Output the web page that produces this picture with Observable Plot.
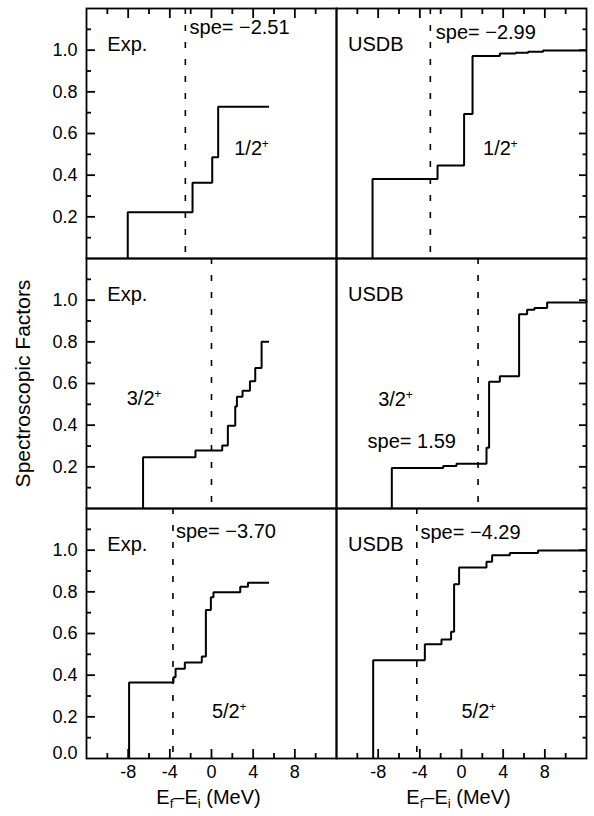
<!DOCTYPE html>
<html>
<head>
<meta charset="utf-8">
<script src="https://cdn.jsdelivr.net/npm/d3@7"></script>
<script src="https://cdn.jsdelivr.net/npm/@observablehq/plot@0.6"></script>
<style>
  html, body { margin: 0; padding: 0; background: #fff; }
  #chart { width: 594px; height: 816px; }
</style>
</head>
<body>
<div id="chart"></div>
<script>
// ---- categories ----
const models = ["Exp.", "USDB"];
const states = ["1/2+", "3/2+", "5/2+"];
const stateNames = ["1/2", "3/2", "5/2"];

// ---- cumulative spectroscopic factors: step energies (MeV) and running sums ----
const exp12E  = [-8.04, -1.82, 0.07, 0.64, 5.52];
const exp12S  = [0.222, 0.364, 0.486, 0.729, 0.729];
const usdb12E = [-8.54, -2.30, 0.25, 1.06, 3.68, 5.2, 6.4, 7.83, 12];
const usdb12S = [0.382, 0.446, 0.694, 0.972, 0.984, 0.988, 0.993, 0.998, 0.998];

const exp32E  = [-6.57, -1.54, 1.03, 1.57, 2.28, 2.44, 2.98, 3.69, 4.20, 4.81, 5.52];
const exp32S  = [0.246, 0.278, 0.303, 0.397, 0.490, 0.536, 0.565, 0.611, 0.674, 0.800, 0.800];
const usdb32E = [-6.69, -1.76, -0.48, 2.40, 2.65, 3.68, 5.53, 6.30, 7.0, 8.22, 12];
const usdb32S = [0.195, 0.204, 0.215, 0.292, 0.608, 0.635, 0.933, 0.954, 0.962, 0.989, 0.997];

const exp52E  = [-7.91, -3.65, -3.45, -2.56, -0.93, -0.54, -0.06, 0.19, 2.76, 3.50, 5.52];
const exp52S  = [0.365, 0.390, 0.431, 0.461, 0.490, 0.713, 0.774, 0.798, 0.825, 0.844, 0.844];
const usdb52E = [-8.48, -3.52, -1.92, -1.00, -0.71, -0.23, 2.40, 2.94, 4.64, 7.35, 12];
const usdb52S = [0.472, 0.549, 0.571, 0.609, 0.836, 0.917, 0.944, 0.976, 0.986, 0.998, 0.998];

// ---- single-particle energies (dashed lines) ----
const speExp  = [-2.51, 0.00, -3.70];
const speUsdb = [-2.99, 1.59, -4.29];

// ---- ticks and titles ----
const xDomain = [-12, 12];
const yDomain = [0, 1.2];
const xMajorTicks = [-8, -4, 0, 4, 8];
const xMinorTicks = [-10, -6, -2, 2, 6, 10];
const yMajorTicks = [0.2, 0.4, 0.6, 0.8, 1.0];
const yMinorTicks = [0.1, 0.3, 0.5, 0.7, 0.9, 1.1];
const xTitle = "Ef–Ei (MeV)";
const yTitle = "Spectroscopic Factors";

// ---- build tables ----
const series = [
  {model: "Exp.", state: "1/2+", E: exp12E, S: exp12S},
  {model: "USDB", state: "1/2+", E: usdb12E, S: usdb12S},
  {model: "Exp.", state: "3/2+", E: exp32E, S: exp32S},
  {model: "USDB", state: "3/2+", E: usdb32E, S: usdb32S},
  {model: "Exp.", state: "5/2+", E: exp52E, S: exp52S},
  {model: "USDB", state: "5/2+", E: usdb52E, S: usdb52S}
];
const steps = series.flatMap(s => [
  {model: s.model, state: s.state, E: s.E[0], S: 0},
  ...s.E.map((e, i) => ({model: s.model, state: s.state, E: e, S: s.S[i]}))
]);
const speRows = states.flatMap((st, i) => [
  {model: "Exp.", state: st, spe: speExp[i]},
  {model: "USDB", state: st, spe: speUsdb[i]}
]);
const fmtSpe = v => "spe= " + (v < 0 ? "\u2212" + Math.abs(v).toFixed(2) : v.toFixed(2));

const bottomRow = states[2];
const leftCol = models[0];

// ---- annotation placement (data coordinates) ----
const speLabelPos = {
  "Exp.|1/2+": [-2.11, 1.11],
  "USDB|1/2+": [-2.47, 1.085],
  "USDB|3/2+": [-9.02, 0.322],
  "Exp.|5/2+": [-3.42, 1.087],
  "USDB|5/2+": [-3.94, 1.082]
};
const stateLabelPos = {
  "Exp.|1/2+": [2.18, 0.526],
  "USDB|1/2+": [2.07, 0.526],
  "Exp.|3/2+": [-8.14, 0.528],
  "USDB|3/2+": [-8.0, 0.522],
  "Exp.|5/2+": [0.04, 0.224],
  "USDB|5/2+": [0.0, 0.224]
};
const modelLabelX = {"Exp.": -10.0, "USDB": -10.9};
const modelLabelY = 1.026;

const speLabels = speRows
  .filter(r => speLabelPos[r.model + "|" + r.state])
  .map(r => ({...r, text: fmtSpe(r.spe),
    x: speLabelPos[r.model + "|" + r.state][0], y: speLabelPos[r.model + "|" + r.state][1]}));
const stateLabels = series.map(s => ({model: s.model, state: s.state,
  text: stateNames[states.indexOf(s.state)],
  x: stateLabelPos[s.model + "|" + s.state][0], y: stateLabelPos[s.model + "|" + s.state][1]}));
const modelLabels = series.map(s => ({model: s.model, state: s.state, text: s.model,
  x: modelLabelX[s.model], y: modelLabelY}));

// ---- layout ----
const W = 594, H = 816;
const mL = 86, mR = 7.5, mT = 7, mB = 57;

const font = "'Liberation Sans', Arial, Helvetica, sans-serif";
// inward tick style (axis marks, tick lines only)
const tk = {stroke: "black", strokeWidth: 1.8, fill: "none", label: null};

const svg = Plot.plot({
  width: W,
  height: H,
  marginLeft: mL,
  marginRight: mR,
  marginTop: mT,
  marginBottom: mB,
  style: {fontFamily: font, color: "black", background: "white", overflow: "visible"},
  x: {domain: xDomain},
  y: {domain: yDomain},
  fx: {domain: models, padding: 0, axis: null},
  fy: {domain: states, padding: 0, axis: null},
  marks: [
    Plot.frame({stroke: "black", strokeWidth: 1.8}),
    Plot.ruleX(speRows, {x: "spe", fx: "model", fy: "state", stroke: "black", strokeWidth: 1.6, strokeDasharray: "6,11"}),
    Plot.line(steps, {x: "E", y: "S", fx: "model", fy: "state", curve: "step-after",
      stroke: "black", strokeWidth: 2, strokeLinejoin: "miter", strokeLinecap: "butt"}),

    // inward ticks (negative tick size), anchored to the outer facets
    Plot.axisX(xMajorTicks, {anchor: "bottom", tickSize: -9, ...tk}),
    Plot.axisX(xMinorTicks, {anchor: "bottom", tickSize: -5, ...tk}),
    Plot.axisX(xMajorTicks, {anchor: "top", tickSize: -9, ...tk}),
    Plot.axisX(xMinorTicks, {anchor: "top", tickSize: -5, ...tk}),
    Plot.axisY(yMajorTicks, {anchor: "left", tickSize: -9, ...tk}),
    Plot.axisY(yMinorTicks, {anchor: "left", tickSize: -5, ...tk}),
    Plot.axisY(yMajorTicks, {anchor: "right", tickSize: -8, ...tk}),
    Plot.axisY(yMinorTicks, {anchor: "right", tickSize: -4.5, ...tk}),

    // tick labels
    Plot.axisX(xMajorTicks, {anchor: "bottom", tickSize: 0, tickPadding: 7, tickFormat: d => String(d), fontSize: 18, label: null, fill: "black"}),
    Plot.axisY(yMajorTicks, {anchor: "left", tickSize: 0, tickPadding: 9, tickFormat: d => d.toFixed(1), fontSize: 18, label: null, fill: "black"}),
    Plot.text([{model: leftCol, state: bottomRow}], {fx: "model", fy: "state", frameAnchor: "bottom-left",
      text: () => (0).toFixed(1), dx: -9, textAnchor: "end", fontSize: 18, fill: "black"}),

    // axis titles
    Plot.text(models.map(m => ({model: m, state: bottomRow})), {fx: "model", fy: "state", frameAnchor: "bottom",
      text: () => xTitle, dy: 45, dx: -3, textAnchor: "middle", fontSize: 20, fill: "black"}),
    Plot.text([{model: leftCol, state: states[1]}], {fx: "model", fy: "state", frameAnchor: "left",
      text: () => yTitle, rotate: -90, dx: -63, textAnchor: "middle", fontSize: 21, fill: "black"}),

    // panel annotations
    Plot.text(modelLabels, {x: "x", y: "y", fx: "model", fy: "state", text: "text", textAnchor: "start", fontSize: 20, fill: "black"}),
    Plot.text(speLabels, {x: "x", y: "y", fx: "model", fy: "state", text: "text", textAnchor: "start", fontSize: 20, fill: "black"}),
    Plot.text(stateLabels, {x: "x", y: "y", fx: "model", fy: "state", text: "text", textAnchor: "start", fontSize: 20, fill: "black"}),
    Plot.text(stateLabels, {x: "x", y: "y", fx: "model", fy: "state", text: () => "+", textAnchor: "start", dx: 27.5, dy: -4.5, fontSize: 12, fill: "black"})
  ]
});

// subscripts in the x-axis title
d3.select(svg).selectAll("text").filter(function () { return this.textContent === xTitle; }).each(function () {
  const t = d3.select(this);
  t.text(null);
  t.append("tspan").text("E");
  t.append("tspan").attr("dy", 4).attr("font-size", 13).text("f");
  t.append("tspan").attr("dy", -4).text("–E");
  t.append("tspan").attr("dy", 4).attr("font-size", 13).text("i");
  t.append("tspan").attr("dy", -4).text(" (MeV)");
});

document.getElementById("chart").appendChild(svg);
</script>
</body>
</html>
